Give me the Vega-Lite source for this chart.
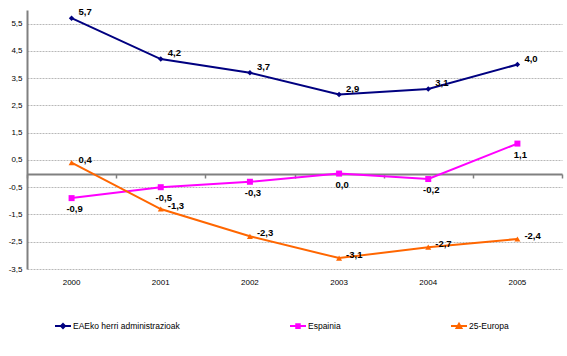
{
  "$schema": "https://vega.github.io/schema/vega-lite/v6.json",
  "width": 535,
  "height": 259,
  "autosize": "none",
  "padding": {"left": 27, "top": 10, "right": 5, "bottom": 87},
  "config": {
    "locale": {"number": {"decimal": ",", "thousands": ".", "grouping": [3], "currency": ["", " €"], "minus": "-"}},
    "view": {"stroke": null},
    "font": "Liberation Sans"
  },
  "data": {"values": [
    {"year": "2000", "series": "EAEko herri administrazioak", "value": 5.7},
    {"year": "2001", "series": "EAEko herri administrazioak", "value": 4.2},
    {"year": "2002", "series": "EAEko herri administrazioak", "value": 3.7},
    {"year": "2003", "series": "EAEko herri administrazioak", "value": 2.9},
    {"year": "2004", "series": "EAEko herri administrazioak", "value": 3.1},
    {"year": "2005", "series": "EAEko herri administrazioak", "value": 4.0},
    {"year": "2000", "series": "Espainia", "value": -0.9},
    {"year": "2001", "series": "Espainia", "value": -0.5},
    {"year": "2002", "series": "Espainia", "value": -0.3},
    {"year": "2003", "series": "Espainia", "value": 0.0},
    {"year": "2004", "series": "Espainia", "value": -0.2},
    {"year": "2005", "series": "Espainia", "value": 1.1},
    {"year": "2000", "series": "25-Europa", "value": 0.4},
    {"year": "2001", "series": "25-Europa", "value": -1.3},
    {"year": "2002", "series": "25-Europa", "value": -2.3},
    {"year": "2003", "series": "25-Europa", "value": -3.1},
    {"year": "2004", "series": "25-Europa", "value": -2.7},
    {"year": "2005", "series": "25-Europa", "value": -2.4}
  ]},
  "encoding": {
    "x": {"field": "year", "type": "ordinal", "bandPosition": 0.5, "axis": null,
          "scale": {"type": "band", "paddingInner": 0, "paddingOuter": 0}},
    "y": {"field": "value", "type": "quantitative",
          "scale": {"domain": [-3.5, 6], "nice": false, "zero": false},
          "axis": {"values": [-3.5, -2.5, -1.5, -0.5, 0.5, 1.5, 2.5, 3.5, 4.5, 5.5], "format": ".1f",
                   "title": null, "ticks": false, "labelFontSize": 8, "labelColor": "#000000", "labelPadding": 5,
                   "domainColor": "#808080", "domainWidth": 2, "gridColor": "#b8b8b8", "gridDash": [2, 1], "gridWidth": 1}},
    "color": {"field": "series", "type": "nominal",
              "scale": {"domain": ["EAEko herri administrazioak", "Espainia", "25-Europa"], "range": ["#000080", "#ff00ff", "#ff6600"]},
              "legend": {"orient": "none", "legendX": 27, "legendY": 307, "direction": "horizontal", "title": null,
                         "columnPadding": 106, "labelFontSize": 8.5, "labelColor": "#000000", "labelOffset": 1, "symbolSize": 256,
                         "labelLimit": 300, "symbolStrokeWidth": 2,
                         "encode": {"symbols": {"update": {
                           "shape": {"signal": "datum.value === 'Espainia' ? 'M-1,0H1M-0.22,-0.22H0.22V0.22H-0.22Z' : datum.value === '25-Europa' ? 'M-1,0H1M0,-0.3L0.3,0.22H-0.3Z' : 'M-1,0H1M0,-0.25L0.25,0L0,0.25L-0.25,0Z'"},
                           "fill": {"scale": "color", "field": "value"},
                           "stroke": {"scale": "color", "field": "value"},
                           "strokeWidth": {"value": 2},
                           "opacity": {"value": 1}}}}}}
  },
  "layer": [
    {
      "mark": {"type": "line", "strokeWidth": 2},
      "encoding": {
        "x": {"field": "year", "type": "ordinal", "bandPosition": 0.5,
              "scale": {"type": "band", "paddingInner": 0, "paddingOuter": 0},
              "axis": {"orient": "bottom", "offset": -95, "labels": false, "title": null, "grid": false,
                       "tickBand": "extent", "tickSize": 4, "tickColor": "#808080", "tickWidth": 1.5,
                       "domainColor": "#808080", "domainWidth": 2}}
      }
    },
    {
      "transform": [{"filter": "datum.series === 'EAEko herri administrazioak'"}],
      "mark": {"type": "point", "filled": true, "opacity": 1, "shape": "diamond", "size": 30},
      "encoding": {
        "x": {"field": "year", "type": "ordinal", "bandPosition": 0.5,
              "scale": {"type": "band", "paddingInner": 0, "paddingOuter": 0},
              "axis": {"orient": "bottom", "labelAngle": 0, "title": null, "grid": false, "domain": false, "ticks": false,
                       "labelPadding": 9, "labelFontSize": 8, "labelColor": "#000000"}}
      }
    },
    {
      "transform": [{"filter": "datum.series === 'Espainia'"}],
      "mark": {"type": "point", "filled": true, "opacity": 1, "shape": "square", "size": 36}
    },
    {
      "transform": [{"filter": "datum.series === '25-Europa'"}],
      "mark": {"type": "point", "filled": true, "opacity": 1, "shape": "triangle-up", "size": 36}
    },
    {
      "transform": [{"filter": "datum.series === 'EAEko herri administrazioak'"}],
      "mark": {"type": "text", "align": "left", "baseline": "middle", "dx": 7, "dy": -6, "fontWeight": "bold", "fontSize": 9.5},
      "encoding": {"text": {"field": "value", "type": "quantitative", "format": ".1f"}, "color": {"value": "#000000"}}
    },
    {
      "transform": [{"filter": "datum.series === 'Espainia'"}],
      "mark": {"type": "text", "align": "center", "baseline": "middle", "dx": 3, "dy": 11, "fontWeight": "bold", "fontSize": 9.5},
      "encoding": {"text": {"field": "value", "type": "quantitative", "format": ".1f"}, "color": {"value": "#000000"}}
    },
    {
      "transform": [{"filter": "datum.series === '25-Europa'"}],
      "mark": {"type": "text", "align": "left", "baseline": "middle", "dx": 7, "dy": -3, "fontWeight": "bold", "fontSize": 9.5},
      "encoding": {"text": {"field": "value", "type": "quantitative", "format": ".1f"}, "color": {"value": "#000000"}}
    }
  ],
  "resolve": {"axis": {"x": "independent"}}
}
